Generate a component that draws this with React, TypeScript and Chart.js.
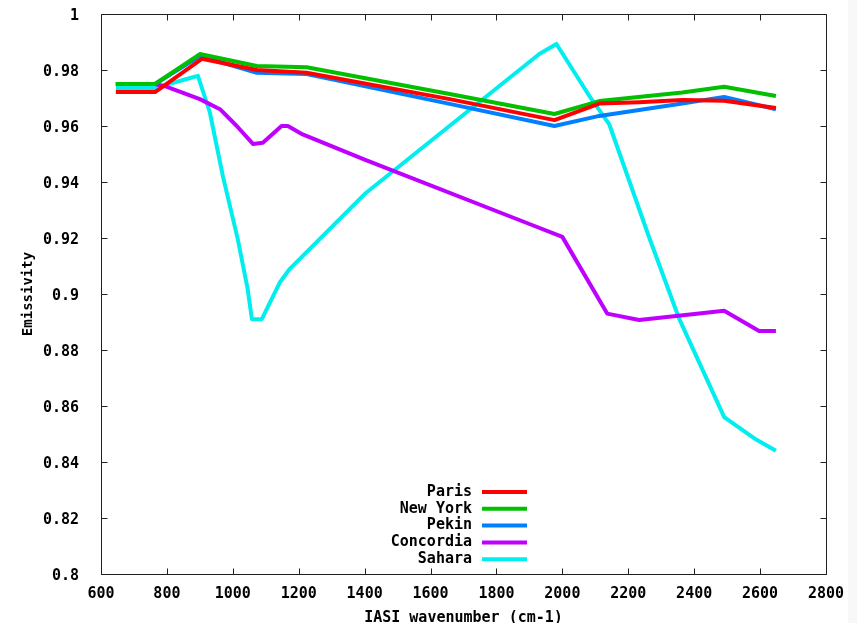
import React, { useEffect, useRef } from "react";
import { Chart, registerables } from "chart.js";

Chart.register(...registerables);

// ---- Data ----
const seriesNames = ["Paris", "New York", "Pekin", "Concordia", "Sahara"];
const seriesColors = ["#ff0000", "#00c000", "#0080ff", "#c000ff", "#00eeee"];

const parisX = [645, 764, 906, 1073, 1224, 1658, 1976, 2112, 2233, 2364, 2491, 2648];
const parisY = [0.9721, 0.9721, 0.984, 0.98, 0.979, 0.9696, 0.9621, 0.968, 0.9685, 0.9693, 0.969, 0.9664];

const newYorkX = [645, 764, 900, 1073, 1224, 1658, 1976, 2112, 2364, 2491, 2648];
const newYorkY = [0.975, 0.975, 0.9857, 0.9814, 0.981, 0.9714, 0.9643, 0.9689, 0.972, 0.974, 0.9707];

const pekinX = [645, 764, 900, 1073, 1224, 1658, 1976, 2112, 2364, 2491, 2648];
const pekinY = [0.975, 0.975, 0.985, 0.979, 0.9786, 0.9679, 0.96, 0.9636, 0.968, 0.9704, 0.966];

const concordiaX = [645, 764, 800, 900, 961, 1012, 1061, 1091, 1148, 1167, 1212, 1400, 1900, 2000, 2136, 2233, 2415, 2491, 2597, 2648];
const concordiaY = [0.975, 0.975, 0.974, 0.9696, 0.966, 0.96, 0.9536, 0.954, 0.96, 0.96, 0.957, 0.948, 0.925, 0.9204, 0.893, 0.8907, 0.893, 0.894, 0.8868, 0.8868];

const saharaX = [645, 764, 860, 894, 930, 970, 1015, 1045, 1058, 1088, 1142, 1173, 1400, 1930, 1982, 2082, 2142, 2264, 2355, 2491, 2588, 2648];
const saharaY = [0.9736, 0.9736, 0.9768, 0.9779, 0.965, 0.942, 0.9196, 0.9018, 0.891, 0.891, 0.904, 0.909, 0.9357, 0.9857, 0.9893, 0.9707, 0.9607, 0.92, 0.891, 0.856, 0.848, 0.844];

const seriesX = [parisX, newYorkX, pekinX, concordiaX, saharaX];
const seriesY = [parisY, newYorkY, pekinY, concordiaY, saharaY];

const xMin = 600;
const xMax = 2800;
const xStep = 200;
const yMin = 0.8;
const yMax = 1;
const yStep = 0.02;

const xTitle = "IASI wavenumber (cm-1)";
const yTitle = "Emissivity";

const FONT = "'DejaVu Sans Mono', monospace";

const gnuplotFrame = {
  id: "gnuplotFrame",
  beforeDraw(chart: any) {
    const ctx = chart.ctx;
    ctx.save();
    ctx.fillStyle = "#ffffff";
    ctx.fillRect(0, 0, chart.width, chart.height);
    ctx.fillStyle = "#f8f8f8";
    ctx.fillRect(848, 0, chart.width - 848, chart.height);
    ctx.restore();
  },
  beforeDatasetsDraw(chart: any) {
    const ctx = chart.ctx;
    const { left, right, top, bottom } = chart.chartArea;
    const xs = chart.scales.x;
    const ys = chart.scales.y;
    const L = Math.round(left) + 0.5;
    const R = Math.round(right) + 0.5;
    const T = Math.round(top) + 0.5;
    const B = Math.round(bottom) + 0.5;
    ctx.save();
    ctx.strokeStyle = "#202020";
    ctx.lineWidth = 1;
    ctx.beginPath();
    ctx.rect(L, T, R - L, B - T);
    const tl = 6;
    for (let v = xMin; v <= xMax + 1e-9; v += xStep) {
      const px = Math.round(xs.getPixelForValue(v)) + 0.5;
      ctx.moveTo(px, B);
      ctx.lineTo(px, B - tl);
      ctx.moveTo(px, T);
      ctx.lineTo(px, T + tl);
    }
    for (let i = 0; i <= Math.round((yMax - yMin) / yStep); i++) {
      const v = yMin + i * yStep;
      const py = Math.round(ys.getPixelForValue(v)) + 0.5;
      ctx.moveTo(L, py);
      ctx.lineTo(L + tl, py);
      ctx.moveTo(R, py);
      ctx.lineTo(R - tl, py);
    }
    ctx.stroke();
    ctx.restore();
  },
  afterDatasetsDraw(chart: any) {
    const ctx = chart.ctx;
    const { left, bottom } = chart.chartArea;
    const textRight = left + 371;
    const lineStart = left + 381;
    const lineEnd = left + 426;
    const firstRow = bottom - 82;
    const rowH = 16.8;
    ctx.save();
    ctx.font = `bold 15px ${FONT}`;
    ctx.textAlign = "right";
    ctx.textBaseline = "middle";
    chart.data.datasets.forEach((ds: any, i: number) => {
      const y = firstRow + i * rowH;
      ctx.fillStyle = "#000";
      ctx.fillText(ds.label, textRight, y);
      ctx.strokeStyle = ds.borderColor;
      ctx.lineWidth = 4;
      ctx.beginPath();
      ctx.moveTo(lineStart, y);
      ctx.lineTo(lineEnd, y);
      ctx.stroke();
    });
    ctx.restore();
  },
};

export default function App() {
  const canvasRef = useRef<HTMLCanvasElement | null>(null);

  useEffect(() => {
    document.body.style.margin = "0";
    const canvas = canvasRef.current;
    if (!canvas) return;

    const datasets = seriesNames.map((name, i) => ({
      label: name,
      data: seriesX[i].map((x, j) => ({ x, y: seriesY[i][j] })),
      borderColor: seriesColors[i],
      backgroundColor: seriesColors[i],
      borderWidth: 4,
      pointRadius: 0,
      showLine: true,
      fill: false,
      tension: 0,
      borderJoinStyle: "round" as const,
      borderCapStyle: "butt" as const,
    }));

    const chart = new Chart(canvas, {
      type: "scatter",
      data: { datasets },
      plugins: [gnuplotFrame],
      options: {
        animation: false,
        responsive: false,
        devicePixelRatio: 1,
        layout: { padding: { left: 0, top: 14, right: 31, bottom: 0 } },
        plugins: {
          legend: { display: false },
          tooltip: { enabled: false },
        },
        scales: {
          x: {
            type: "linear",
            min: xMin,
            max: xMax,
            grid: { display: false },
            border: { display: false },
            ticks: {
              stepSize: xStep,
              color: "#000",
              font: { family: FONT, size: 15, weight: "bold" },
              padding: 3,
              maxRotation: 0,
              autoSkip: false,
              callback: (v: any) => String(Math.round(Number(v))),
            },
            title: {
              display: true,
              text: xTitle,
              color: "#000",
              font: { family: FONT, size: 15, weight: "bold", lineHeight: 1.0 },
              padding: { top: 0, bottom: -3 },
            },
            afterFit(scale: any) {
              scale.height = 49;
              scale.paddingLeft = 0;
              scale.paddingRight = 0;
            },
          },
          y: {
            type: "linear",
            min: yMin,
            max: yMax,
            grid: { display: false },
            border: { display: false },
            ticks: {
              stepSize: yStep,
              color: "#000",
              font: { family: FONT, size: 15, weight: "bold" },
              padding: 14,
              labelOffset: 2,
              autoSkip: false,
              callback: (v: any) => String(Number(Number(v).toFixed(2))),
            },
            title: {
              display: true,
              text: yTitle,
              color: "#000",
              font: { family: FONT, size: 14, weight: "bold", lineHeight: 1.0 },
              padding: { top: 21, bottom: 0 },
            },
            afterFit(scale: any) {
              scale.width = 101;
              scale.paddingTop = 0;
              scale.paddingBottom = 0;
            },
          },
        },
      },
    });

    return () => chart.destroy();
  }, []);

  return (
    <div style={{ width: 857, height: 623 }}>
      <canvas ref={canvasRef} width={857} height={623} style={{ display: "block" }} />
    </div>
  );
}
